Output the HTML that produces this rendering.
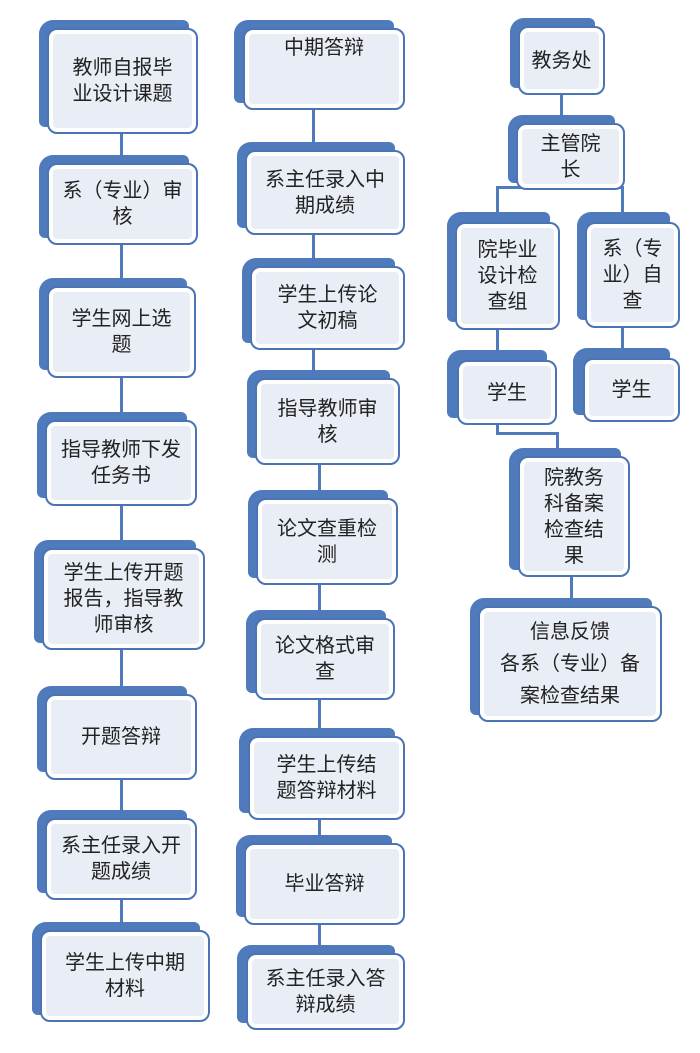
<!DOCTYPE html>
<html><head><meta charset="utf-8"><style>
html,body{margin:0;padding:0;background:#fff;}
body{width:700px;height:1053px;position:relative;overflow:hidden;font-family:"Liberation Sans","Noto Sans CJK SC",sans-serif;}
.b{position:absolute;background:#4f7bbd;border-radius:14px 6px 4px 6px;}
.f{position:absolute;box-sizing:border-box;border:2px solid #4a74b4;border-radius:10px;background:#e9eef6;box-shadow:inset 0 0 0 4px #fff;display:flex;align-items:center;justify-content:center;text-align:center;font-size:20px;line-height:26px;color:#222;padding:6px 8px;}
.l{position:absolute;background:#4f7bbd;}
</style></head><body>
<div class="l" style="left:120px;top:130px;width:3px;height:40px"></div>
<div class="l" style="left:120px;top:240px;width:3px;height:45px"></div>
<div class="l" style="left:120px;top:375px;width:3px;height:45px"></div>
<div class="l" style="left:120px;top:500px;width:3px;height:45px"></div>
<div class="l" style="left:120px;top:645px;width:3px;height:45px"></div>
<div class="l" style="left:120px;top:775px;width:3px;height:40px"></div>
<div class="l" style="left:120px;top:895px;width:3px;height:35px"></div>
<div class="l" style="left:312px;top:105px;width:3px;height:45px"></div>
<div class="l" style="left:312px;top:230px;width:3px;height:35px"></div>
<div class="l" style="left:312px;top:345px;width:3px;height:35px"></div>
<div class="l" style="left:318px;top:460px;width:3px;height:38px"></div>
<div class="l" style="left:318px;top:580px;width:3px;height:38px"></div>
<div class="l" style="left:318px;top:695px;width:3px;height:40px"></div>
<div class="l" style="left:318px;top:815px;width:3px;height:30px"></div>
<div class="l" style="left:318px;top:920px;width:3px;height:30px"></div>
<div class="l" style="left:560px;top:92px;width:3px;height:30px"></div>
<div class="l" style="left:496px;top:186px;width:128px;height:3px"></div>
<div class="l" style="left:496px;top:186px;width:3px;height:30px"></div>
<div class="l" style="left:621px;top:186px;width:3px;height:30px"></div>
<div class="l" style="left:496px;top:325px;width:3px;height:35px"></div>
<div class="l" style="left:621px;top:325px;width:3px;height:30px"></div>
<div class="l" style="left:496px;top:420px;width:3px;height:14px"></div>
<div class="l" style="left:496px;top:432px;width:62px;height:3px"></div>
<div class="l" style="left:556px;top:432px;width:3px;height:20px"></div>
<div class="l" style="left:570px;top:570px;width:3px;height:35px"></div>

<div class="b" style="left:39px;top:20px;width:150px;height:107px"></div>
<div class="f" style="left:47px;top:28px;width:151px;height:106px">教师自报毕<br>业设计课题</div>
<div class="b" style="left:39px;top:155px;width:150px;height:83px"></div>
<div class="f" style="left:47px;top:163px;width:151px;height:82px">系（专业）审<br>核</div>
<div class="b" style="left:39px;top:278px;width:148px;height:92px"></div>
<div class="f" style="left:47px;top:286px;width:149px;height:92px">学生网上选<br>题</div>
<div class="b" style="left:37px;top:412px;width:150px;height:86px"></div>
<div class="f" style="left:45px;top:420px;width:152px;height:86px">指导教师下发<br>任务书</div>
<div class="b" style="left:34px;top:540px;width:162px;height:103px"></div>
<div class="f" style="left:42px;top:548px;width:163px;height:102px">学生上传开题<br>报告，指导教<br>师审核</div>
<div class="b" style="left:37px;top:686px;width:150px;height:86px"></div>
<div class="f" style="left:45px;top:694px;width:152px;height:86px">开题答辩</div>
<div class="b" style="left:37px;top:810px;width:150px;height:83px"></div>
<div class="f" style="left:45px;top:818px;width:152px;height:82px">系主任录入开<br>题成绩</div>
<div class="b" style="left:32px;top:922px;width:168px;height:93px"></div>
<div class="f" style="left:40px;top:930px;width:170px;height:92px">学生上传中期<br>材料</div>

<div class="b" style="left:234px;top:20px;width:160px;height:83px"></div>
<div class="f" style="left:243px;top:28px;width:162px;height:82px;align-items:flex-start;padding-top:5px">中期答辩</div>
<div class="b" style="left:237px;top:142px;width:158px;height:86px"></div>
<div class="f" style="left:245px;top:150px;width:160px;height:85px">系主任录入中<br>期成绩</div>
<div class="b" style="left:242px;top:258px;width:153px;height:85px"></div>
<div class="f" style="left:250px;top:266px;width:155px;height:84px">学生上传论<br>文初稿</div>
<div class="b" style="left:247px;top:370px;width:143px;height:88px"></div>
<div class="f" style="left:255px;top:378px;width:145px;height:87px">指导教师审<br>核</div>
<div class="b" style="left:248px;top:490px;width:140px;height:88px"></div>
<div class="f" style="left:256px;top:498px;width:142px;height:87px">论文查重检<br>测</div>
<div class="b" style="left:246px;top:610px;width:140px;height:83px"></div>
<div class="f" style="left:255px;top:618px;width:140px;height:82px">论文格式审<br>查</div>
<div class="b" style="left:239px;top:728px;width:156px;height:85px"></div>
<div class="f" style="left:248px;top:736px;width:157px;height:84px">学生上传结<br>题答辩材料</div>
<div class="b" style="left:236px;top:835px;width:156px;height:82px"></div>
<div class="f" style="left:244px;top:843px;width:161px;height:82px">毕业答辩</div>
<div class="b" style="left:237px;top:945px;width:158px;height:78px"></div>
<div class="f" style="left:246px;top:953px;width:159px;height:77px">系主任录入答<br>辩成绩</div>

<div class="b" style="left:510px;top:18px;width:85px;height:70px"></div>
<div class="f" style="left:518px;top:26px;width:87px;height:69px">教务处</div>
<div class="b" style="left:508px;top:115px;width:107px;height:68px"></div>
<div class="f" style="left:516px;top:123px;width:109px;height:67px">主管院<br>长</div>
<div class="b" style="left:447px;top:212px;width:103px;height:110px"></div>
<div class="f" style="left:455px;top:222px;width:105px;height:108px">院毕业<br>设计检<br>查组</div>
<div class="b" style="left:577px;top:212px;width:93px;height:108px"></div>
<div class="f" style="left:585px;top:222px;width:95px;height:106px">系（专<br>业）自<br>查</div>
<div class="b" style="left:447px;top:350px;width:100px;height:68px"></div>
<div class="f" style="left:457px;top:360px;width:100px;height:65px">学生</div>
<div class="b" style="left:573px;top:348px;width:97px;height:67px"></div>
<div class="f" style="left:583px;top:358px;width:97px;height:64px">学生</div>
<div class="b" style="left:509px;top:448px;width:112px;height:122px"></div>
<div class="f" style="left:518px;top:456px;width:112px;height:121px">院教务<br>科备案<br>检查结<br>果</div>
<div class="b" style="left:470px;top:598px;width:182px;height:117px"></div>
<div class="f" style="left:478px;top:606px;width:184px;height:116px;line-height:32px">信息反馈<br>各系（专业）备<br>案检查结果</div>
</body></html>
